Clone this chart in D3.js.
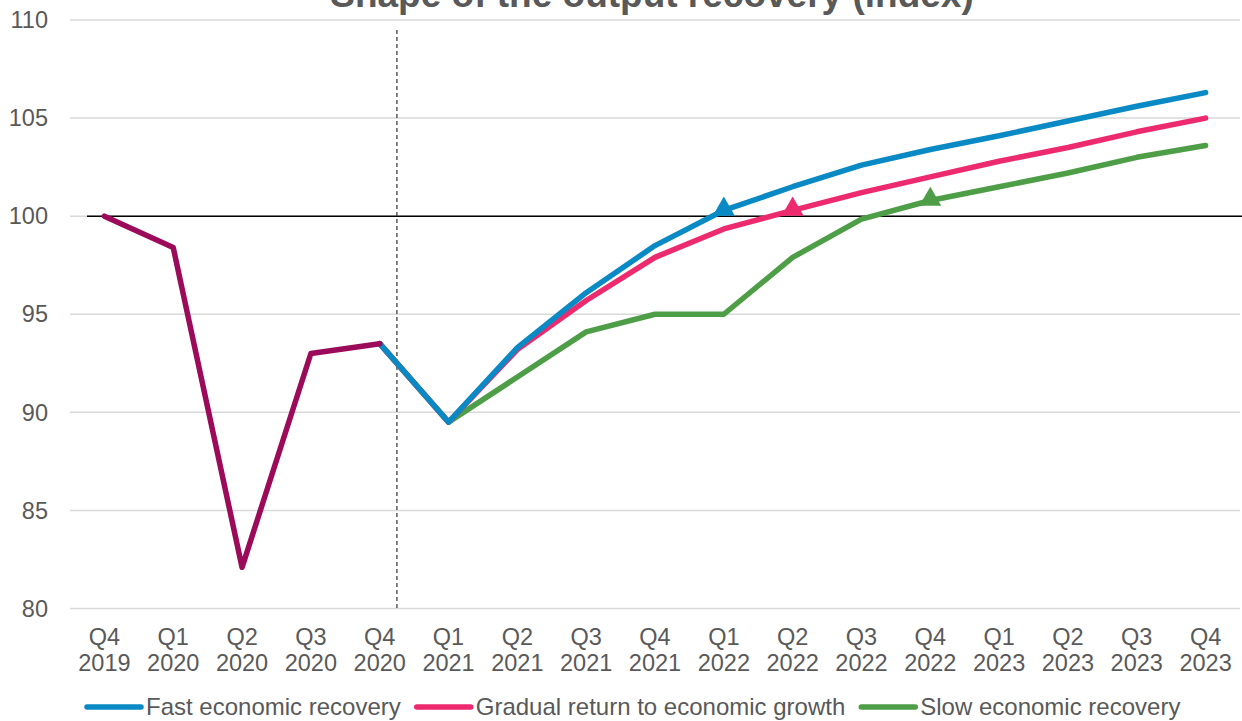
<!DOCTYPE html>
<html>
<head>
<meta charset="utf-8">
<script src="https://cdn.jsdelivr.net/npm/d3@7"></script>
<style>
  body { margin: 0; background: #fff; }
  svg { display: block; font-family: "Liberation Sans", Arial, sans-serif; }
</style>
</head>
<body>
<svg id="chart"></svg>
<script>
// quarters on the x axis (two-line labels)
const quarters = ["Q4 2019", "Q1 2020", "Q2 2020", "Q3 2020", "Q4 2020",
  "Q1 2021", "Q2 2021", "Q3 2021", "Q4 2021",
  "Q1 2022", "Q2 2022", "Q3 2022", "Q4 2022",
  "Q1 2023", "Q2 2023", "Q3 2023", "Q4 2023"];

const yTicks = [80, 85, 90, 95, 100, 105, 110];

// outturn up to Q4 2020
const history = [100, 98.4, 82.1, 93.0, 93.5];

// scenarios, starting from Q4 2020
const fast = [93.5, 89.5, 93.3, 96.1, 98.5, 100.3, 101.5, 102.6, 103.4, 104.1, 104.85, 105.6, 106.3];
const gradual = [93.5, 89.5, 93.2, 95.7, 97.9, 99.35, 100.3, 101.2, 102.0, 102.8, 103.5, 104.3, 105.0];
const slow = [93.5, 89.5, 91.8, 94.1, 95.0, 95.0, 97.9, 99.85, 100.8, 101.5, 102.2, 103.0, 103.6];

const seriesNames = ["Fast economic recovery", "Gradual return to economic growth", "Slow economic recovery"];
const seriesColors = ["#0a8ac4", "#ee2a6f", "#4e9e48"];
// quarter where each scenario gets back to pre-covid level
const recoveryAt = ["Q1 2022", "Q2 2022", "Q4 2022"];

const width = 1242, height = 721;
const margin = { top: 20, right: 2, bottom: 112, left: 70 };

const svg = d3.select("#chart").attr("width", width).attr("height", height);

const x = d3.scaleBand()
  .domain(quarters)
  .range([margin.left, width - margin.right]);

const y = d3.scaleLinear()
  .domain([80, 110])
  .range([height - margin.bottom - 0.5, margin.top]);

const cx = q => x(q) + x.bandwidth() / 2;

// gridlines
svg.append("g")
  .selectAll("line")
  .data(yTicks)
  .join("line")
  .attr("x1", margin.left)
  .attr("x2", width - margin.right)
  .attr("y1", d => y(d))
  .attr("y2", d => y(d))
  .attr("stroke", "#d9d9d9")
  .attr("stroke-width", 1.5);

// y labels
svg.append("g")
  .selectAll("text")
  .data(yTicks)
  .join("text")
  .attr("x", 48)
  .attr("y", d => y(d))
  .attr("dy", "0.35em")
  .attr("text-anchor", "end")
  .attr("fill", "#595959")
  .style("font-size", "23.5px")
  .text(d => d);

// x labels
const xl = svg.append("g")
  .selectAll("text")
  .data(quarters)
  .join("text")
  .attr("text-anchor", "middle")
  .attr("fill", "#595959")
  .style("font-size", "23.5px");
xl.append("tspan")
  .attr("x", d => cx(d))
  .attr("y", 645)
  .text(d => d.split(" ")[0]);
xl.append("tspan")
  .attr("x", d => cx(d))
  .attr("y", 671)
  .text(d => d.split(" ")[1]);

// pre-covid level
svg.append("line")
  .attr("x1", 87).attr("x2", width)
  .attr("y1", y(100)).attr("y2", y(100))
  .attr("stroke", "#000")
  .attr("stroke-width", 1.5);

// outturn / projection divider
const divX = cx("Q4 2020") + x.step() / 4;
svg.append("line")
  .attr("x1", divX).attr("x2", divX)
  .attr("y1", 30).attr("y2", y(80))
  .attr("stroke", "#404040")
  .attr("stroke-width", 1.3)
  .attr("stroke-dasharray", "4,3");

const line = d3.line()
  .x(d => cx(d.q))
  .y(d => y(d.v));

const scenarios = [fast, gradual, slow];
const start = quarters.indexOf("Q4 2020");

// draw slow first so fast sits on top at the shared start
[2, 1, 0].forEach(i => {
  const pts = scenarios[i].map((v, j) => ({ q: quarters[start + j], v }));
  svg.append("path")
    .datum(pts)
    .attr("fill", "none")
    .attr("stroke", seriesColors[i])
    .attr("stroke-width", 5.5)
    .attr("stroke-linejoin", "round")
    .attr("stroke-linecap", "round")
    .attr("d", line);
});

svg.append("path")
  .datum(history.map((v, j) => ({ q: quarters[j], v })))
  .attr("fill", "none")
  .attr("stroke", "#9c0a5a")
  .attr("stroke-width", 5.5)
  .attr("stroke-linejoin", "round")
  .attr("stroke-linecap", "round")
  .attr("d", line);

// recovery markers
const tri = d3.symbol().type(d3.symbolTriangle).size(210);
recoveryAt.forEach((q, i) => {
  const v = scenarios[i][quarters.indexOf(q) - start];
  svg.append("path")
    .attr("d", tri)
    .attr("transform", `translate(${cx(q)},${y(v) - 1})`)
    .attr("fill", seriesColors[i]);
});

// title (mostly cut off at the top)
svg.append("text")
  .attr("x", 652)
  .attr("y", 7)
  .attr("text-anchor", "middle")
  .attr("fill", "#595959")
  .style("font-size", "37px")
  .style("font-weight", "bold")
  .text("Shape of the output recovery (index)");

// legend
const legend = svg.append("g").attr("transform", "translate(85,707)");
let lx = 0;
seriesNames.forEach((name, i) => {
  const g = legend.append("g").attr("transform", `translate(${lx},0)`);
  g.append("line")
    .attr("x1", 2).attr("x2", 56)
    .attr("stroke", seriesColors[i])
    .attr("stroke-width", 5.5)
    .attr("stroke-linecap", "round");
  const t = g.append("text")
    .attr("x", 61)
    .attr("dy", "0.35em")
    .attr("fill", "#595959")
    .style("font-size", "24px")
    .text(name);
  lx += 61 + t.node().getComputedTextLength() + 14;
});
</script>
</body>
</html>
